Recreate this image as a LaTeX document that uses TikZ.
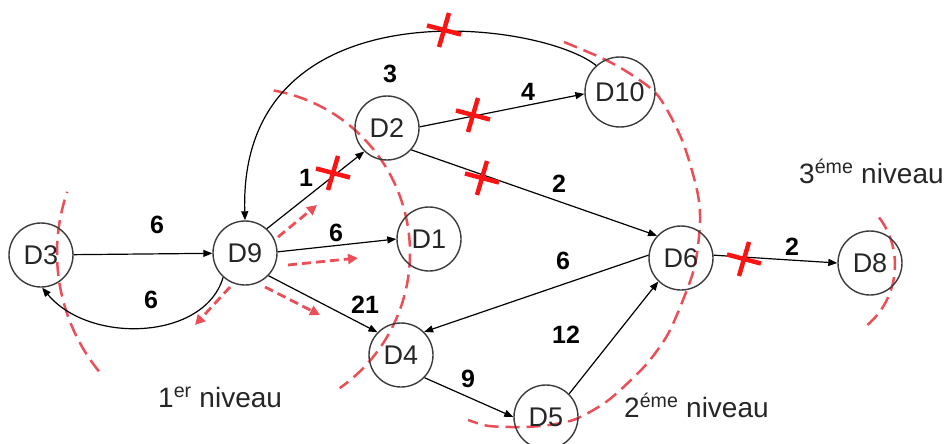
\documentclass[tikz,border=0pt]{standalone}
\usepackage{fontspec}
\setmainfont{Liberation Sans}
\usetikzlibrary{arrows.meta}
\definecolor{lvl}{RGB}{236,78,88}
\definecolor{cutred}{RGB}{250,20,20}
\definecolor{nodeline}{RGB}{60,60,60}
\begin{document}
\begin{tikzpicture}[x=1pt,y=-1pt,
  dnode/.style={circle,draw=nodeline,line width=1.4pt,minimum size=64pt,inner sep=0pt,text=black!85,font=\fontsize{27}{30}\selectfont},
  conn/.style={line width=1.2pt,-{Triangle[length=9pt,width=7pt]}},
  wlabel/.style={font=\bfseries\fontsize{25}{28}\selectfont,inner sep=0pt},
  lvlarc/.style={draw=lvl,line width=2.5pt,dash pattern=on 14pt off 7pt},
  lvlarrow/.style={draw=lvl,line width=2.8pt,dash pattern=on 9pt off 5pt,-{Triangle[length=10pt,width=10pt]}},
  lvltext/.style={font=\fontsize{28}{32}\selectfont,inner sep=0pt,text=black!85},
  cutmark/.pic={\draw[cutred,line width=4.5pt] (-17,-4.5)--(17,4.5); \draw[cutred,line width=4.5pt] (5,-17)--(-5,17);}
]
\useasboundingbox (0,0) rectangle (948,444);
\clip (0,0) rectangle (948,444);

% level boundaries
\draw[lvlarc] plot[domain=141:199,samples=40] ({245+188*cos(\x)},{253+188*sin(\x)});
\draw[lvlarc] plot[domain=-80:55,samples=80] ({245+165*cos(\x)},{253+165*sin(\x)});
\draw[lvlarc] plot[smooth] coordinates {(564,42) (606,60) (635,77) (659,97) (682,140) (697,190) (700,222) (695,265) (683,300) (668,334) (650,360) (632,379) (606,402) (576,419) (549,425) (523,427) (489,426) (468,420)};
\draw[lvlarc] plot[domain=-37:51,samples=40] ({816+79*cos(\x)},{265+79*sin(\x)});

% nodes
\node[dnode] (D3) at (41,255) {D3};
\node[dnode] (D9) at (245,253) {D9};
\node[dnode] (D2) at (387,128) {D2};
\node[dnode,minimum size=70pt] (D10) at (620,92) {D10};
\node[dnode] (D1) at (429,239) {D1};
\node[dnode] (D6) at (681,258) {D6};
\node[dnode] (D8) at (870,263) {D8};
\node[dnode] (D4) at (401,355) {D4};
\node[dnode] (D5) at (546,417) {D5};

% exploration arrows
\coordinate (a1s) at (278,237); \coordinate (a1e) at (317,205);
\coordinate (a2s) at (288,265); \coordinate (a2e) at (358,258);
\coordinate (a3s) at (265,287); \coordinate (a3e) at (320,315);
\coordinate (a4s) at (230,287); \coordinate (a4e) at (195,325);
\draw[lvlarrow] (a1s) -- (a1e);
\draw[lvlarrow] (a2s) -- (a2e);
\draw[lvlarrow] (a3s) -- (a3e);
\draw[lvlarrow] (a4s) -- (a4e);

% edges
\draw[conn] (D3) -- (D9);
\draw[conn] (D9.48) -- (D2.226);
\draw[conn] (D9.2) -- (D1.180);
\draw[conn] (D9.-44) -- (D4.136);
\draw[conn] (D2.2) -- (D10.183);
\draw[conn] (D2.-42) -- (D6.137);
\draw[conn] (D6.175) -- (D4.45);
\draw[conn] (D4.-44) -- (D5.180);
\draw[conn] (D5.45) -- (D6.226);
\draw[conn] (D6.5) -- (D8.180);
\draw[conn] (D10.132) .. controls (540,20) and (238,-18) .. (D9.90);
\draw[conn] (D9.228) .. controls (205,340) and (90,345) .. (D3.272);

% weights
\node[wlabel] (w1) at (157,225) {6};
\node[wlabel] (w2) at (151,300) {6};
\node[wlabel] (w3) at (306,178) {1};
\node[wlabel] (w4) at (336,233) {6};
\node[wlabel] (w5) at (365,305) {21};
\node[wlabel] (w6) at (390,74) {3};
\node[wlabel] (w7) at (528,92) {4};
\node[wlabel] (w8) at (559,184) {2};
\node[wlabel] (w9) at (563,261) {6};
\node[wlabel] (w10) at (566,335) {12};
\node[wlabel] (w11) at (468,379) {9};
\node[wlabel] (w12) at (792,247) {2};

% level labels
\node[lvltext,anchor=base west] (L1) at (158,407) {1\textsuperscript{er} niveau};
\node[lvltext,anchor=base west] (L2) at (624,417) {2\textsuperscript{éme} niveau};
\node[lvltext,anchor=base west] (L3) at (799,183) {3\textsuperscript{éme} niveau};

% cut marks
\pic at (444,30) {cutmark};
\pic at (473,115) {cutmark};
\pic at (482,178) {cutmark};
\pic at (333,173) {cutmark};
\pic at (744,259) {cutmark};
\end{tikzpicture}
\end{document}
